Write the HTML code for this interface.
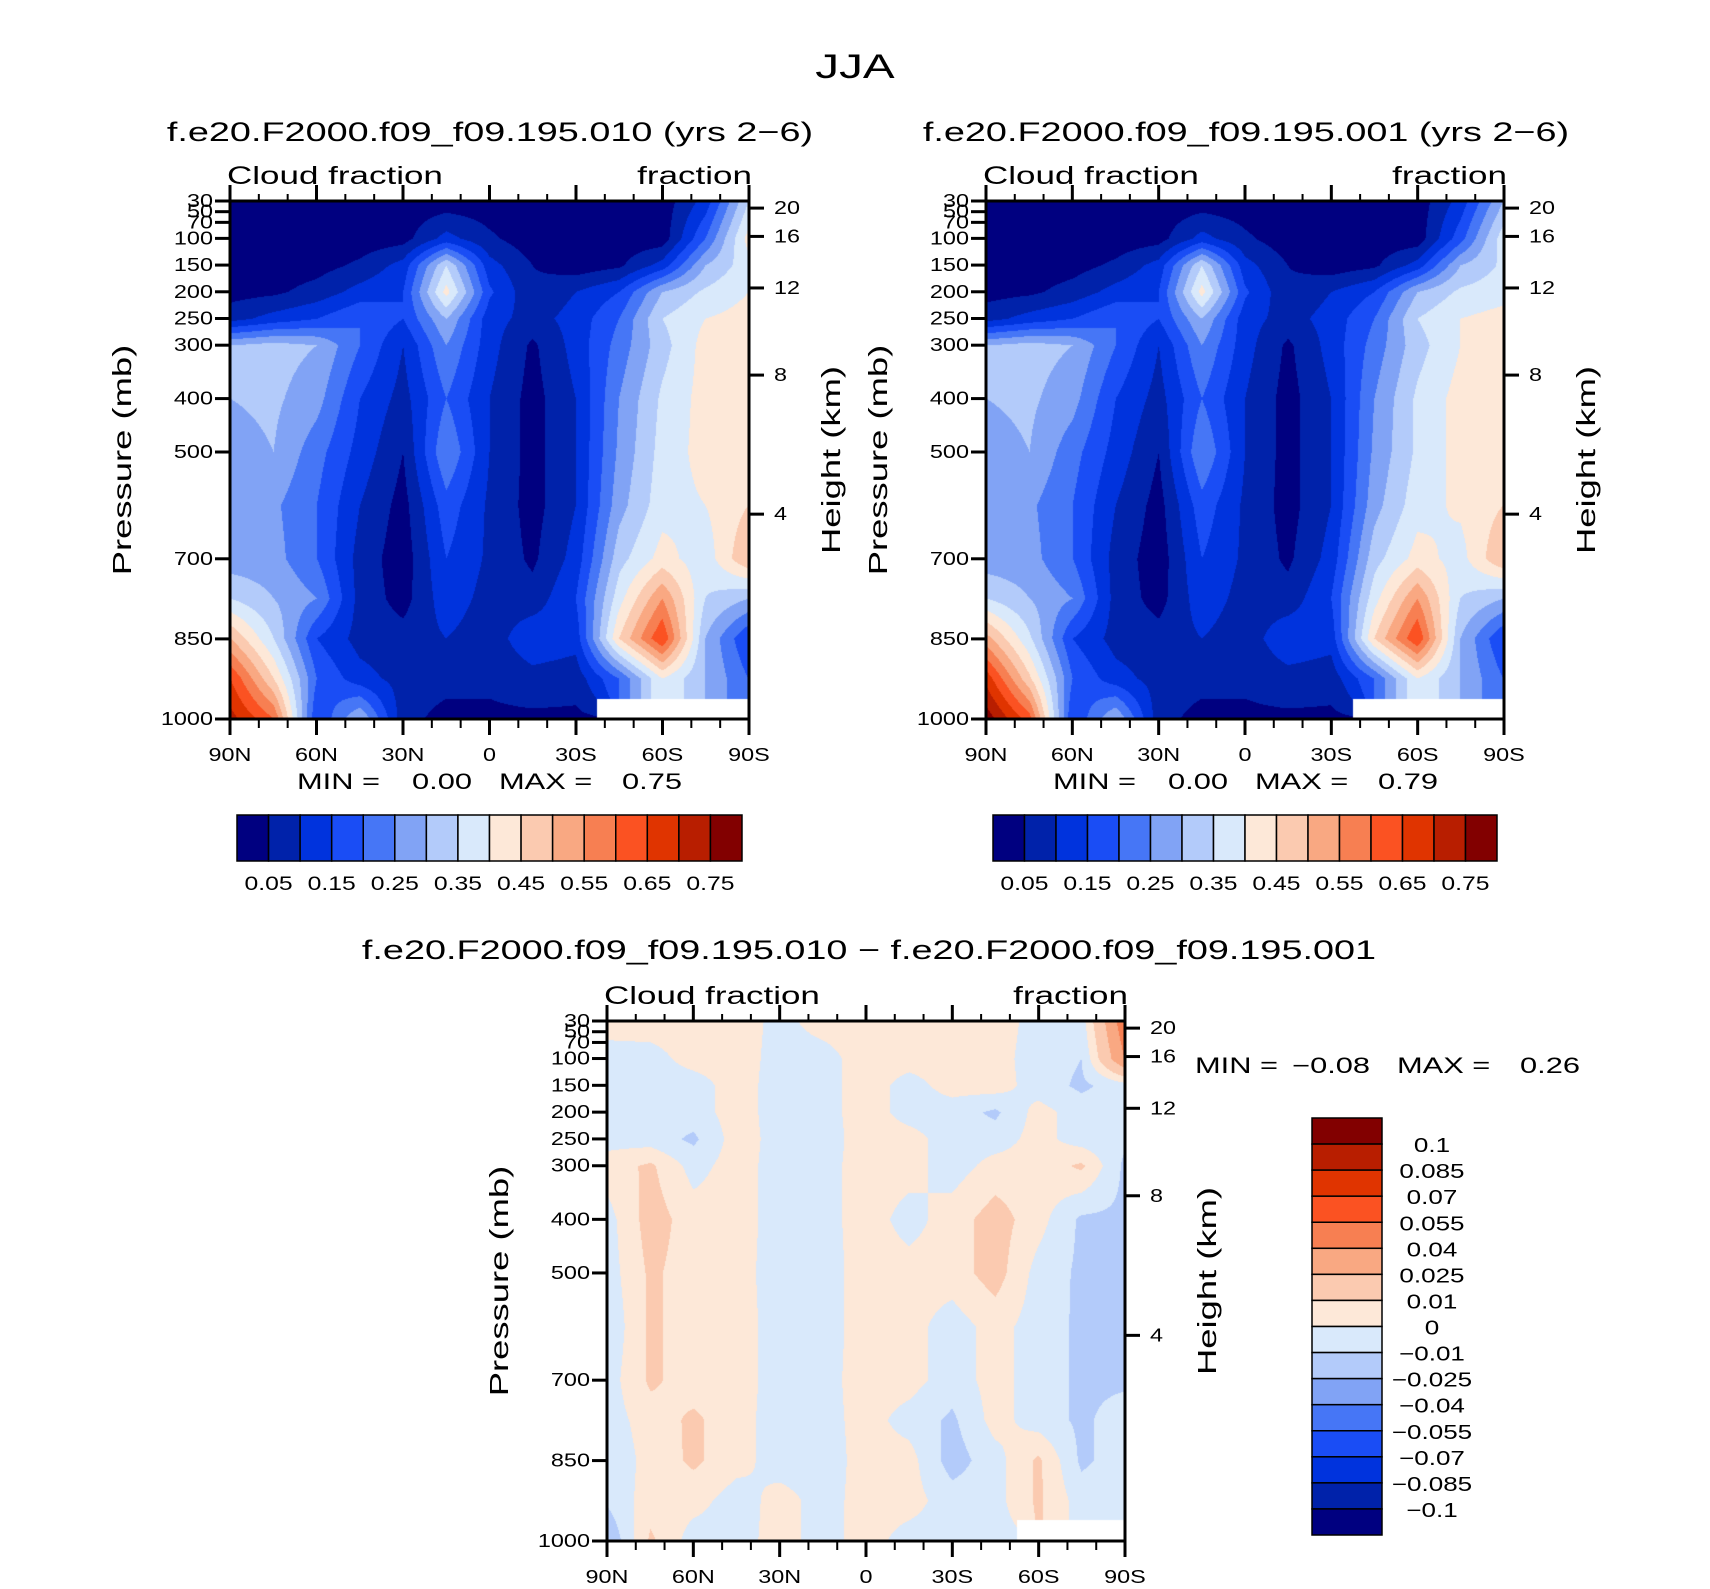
<!DOCTYPE html>
<html><head><meta charset="utf-8"><style>
html,body{margin:0;padding:0;background:#fff;}
#wrap{position:relative;width:1710px;height:1589px;overflow:hidden;font-family:"Liberation Sans",sans-serif;}
canvas{position:absolute;}
svg{position:absolute;left:0;top:0;}
text{font-family:"Liberation Sans",sans-serif;fill:#000;}
</style></head><body>
<div id="wrap">
<canvas id="c1" width="519" height="518" style="left:230px;top:201px"></canvas>
<canvas id="c2" width="518" height="518" style="left:986px;top:201px"></canvas>
<canvas id="c3" width="518" height="520" style="left:607px;top:1021px"></canvas>
<svg id="svg" width="1710" height="1589"></svg>
</div>
<script>
// ---- data ----
const latCats=['90N','75N','60N','45N','30N','15N','0','15S','30S','45S','60S','75S','90S'];
const pressureLevels=[30,100,150,200,250,300,400,500,600,700,775,850,925,1000];
const fieldA=[
[.02,.02,.02,.02,.02,.02,.02,.02,.02,.02,.02,.12,.35],
[.02,.02,.02,.02,.03,.12,.06,.02,.02,.02,.02,.2,.42],
[.02,.02,.03,.06,.12,.35,.12,.05,.02,.04,.12,.3,.38],
[.03,.04,.07,.12,.15,.42,.16,.06,.1,.15,.3,.36,.4],
[.08,.12,.15,.2,.15,.3,.12,.08,.12,.2,.35,.4,.42],
[.3,.32,.3,.2,.1,.25,.12,.04,.12,.22,.33,.42,.45],
[.3,.31,.27,.15,.08,.2,.1,.03,.1,.25,.36,.42,.42],
[.28,.3,.22,.13,.05,.25,.1,.03,.1,.26,.37,.42,.42],
[.27,.26,.2,.1,.03,.18,.09,.03,.1,.28,.38,.4,.45],
[.27,.27,.2,.08,.02,.15,.09,.04,.12,.33,.42,.37,.5],
[.35,.3,.25,.08,.03,.13,.08,.07,.15,.38,.55,.35,.3],
[.5,.35,.15,.08,.07,.1,.07,.14,.12,.45,.65,.3,.15],
[.65,.45,.2,.12,.08,.07,.06,.08,.07,.2,.4,.3,.2],
[.72,.6,.15,.3,.07,.03,.04,.04,.04,null,null,null,null]];
const fieldB=[
[.02,.02,.02,.02,.02,.02,.02,.02,.02,.02,.02,.12,.3],
[.02,.02,.02,.02,.03,.12,.06,.02,.02,.02,.02,.18,.38],
[.02,.02,.03,.06,.12,.35,.12,.05,.02,.04,.12,.3,.36],
[.03,.04,.07,.12,.15,.42,.16,.06,.1,.15,.3,.36,.38],
[.08,.12,.15,.2,.15,.3,.12,.08,.12,.2,.35,.4,.42],
[.3,.32,.3,.2,.1,.25,.12,.04,.12,.22,.33,.4,.44],
[.3,.31,.27,.15,.08,.2,.1,.03,.1,.25,.36,.42,.42],
[.28,.3,.22,.13,.05,.25,.1,.03,.1,.26,.36,.42,.42],
[.27,.26,.2,.1,.03,.18,.09,.03,.1,.28,.38,.41,.45],
[.27,.27,.2,.08,.02,.15,.09,.04,.12,.33,.42,.38,.5],
[.35,.3,.25,.08,.03,.13,.08,.07,.15,.38,.55,.35,.3],
[.52,.36,.15,.08,.07,.1,.07,.14,.12,.45,.65,.3,.15],
[.68,.46,.2,.12,.08,.07,.06,.08,.07,.2,.4,.3,.2],
[.78,.62,.15,.3,.07,.03,.04,.04,.04,null,null,null,null]];
const fieldDiff=[
[.005,.005,.005,.005,-.003,.004,.005,.005,.005,.005,-.004,-.005,.05],
[-.005,-.004,.004,.005,-.004,-.004,.005,.004,.005,.004,-.005,-.01,.04],
[-.005,-.005,-.005,.005,-.005,-.004,.005,-.004,.004,.005,-.005,-.012,-.005],
[-.005,-.004,-.005,.005,-.005,-.004,.005,-.004,-.005,-.012,.004,-.005,-.005],
[-.004,-.005,-.012,.005,-.004,-.005,.005,.004,-.005,-.005,.004,-.005,-.008],
[.005,.012,-.004,.005,-.005,-.004,.005,.004,-.005,.004,.004,.012,-.012],
[-.004,.015,.005,.005,-.005,-.004,.005,-.004,.005,.015,.004,-.012,-.012],
[-.005,.012,.005,.004,-.005,-.005,.005,.004,.005,.015,-.004,-.012,-.012],
[-.008,.012,.005,.005,-.005,-.005,.005,.004,-.005,.004,-.005,-.012,-.02],
[-.005,.012,.005,.005,-.005,-.004,.005,.004,-.005,.004,-.005,-.012,-.012],
[-.005,.005,.012,.004,-.005,-.004,.004,-.004,-.012,.004,-.005,-.012,-.005],
[-.008,.004,.012,.004,-.005,-.005,.004,.004,-.015,-.004,.012,-.012,-.005],
[-.008,.005,.004,-.005,.004,-.004,.004,.004,-.005,-.004,.012,-.005,-.005],
[-.02,.012,-.005,-.004,.004,-.004,.004,-.004,-.004,-.004,null,null,null]];
const cfLevels=[.05,.1,.15,.2,.25,.3,.35,.4,.45,.5,.55,.6,.65,.7,.75];
const cfLabels=['0.05','0.15','0.25','0.35','0.45','0.55','0.65','0.75'];
const diffLevels=[-.1,-.085,-.07,-.055,-.04,-.025,-.01,0,.01,.025,.04,.055,.07,.085,.1];
const diffLabels=['-0.1','-0.085','-0.07','-0.055','-0.04','-0.025','-0.01','0','0.01','0.025','0.04','0.055','0.07','0.085','0.1'];
const pTicks=[30,50,70,100,150,200,250,300,400,500,700,850,1000];
const pTickLabels=['30','50','70','100','150','200','250','300','400','500','700','850','1000'];
const zTicks=[20,16,12,8,4];
const xTickLats=[90,60,30,0,-30,-60,-90];
const xTickLabels=['90N','60N','30N','0','30S','60S','90S'];
const colors=['#000080','#0022aa','#0033dd','#1a4df5','#4676f6','#81a3f5','#b3cbfa','#d9e9fb','#fde8d8','#fbcab0','#f9a882','#f77f52','#fb5222','#e03400','#b81e00','#820000'];

// ---- helpers ----
const svg=document.getElementById('svg');const NS='http://www.w3.org/2000/svg';
function mk(tag,attrs,txt){const e=document.createElementNS(NS,tag);for(const k in attrs)e.setAttribute(k,attrs[k]);if(txt!==undefined)e.textContent=txt;svg.appendChild(e);return e;}
function lev(v,levels){let i=0;while(i<levels.length&&v>=levels[i])i++;return i;}
function hex(h){return [parseInt(h.substr(1,2),16),parseInt(h.substr(3,2),16),parseInt(h.substr(5,2),16)];}
const rgb=colors.map(hex);
function fill(id,field,levels){
 const c=document.getElementById(id);const W=c.width,H=c.height;const ctx=c.getContext('2d');
 const img=ctx.createImageData(W,H);const nc=latCats.length;
 for(let y=0;y<H;y++){
  const p=30+970*y/(H-1);let r=0;while(r<pressureLevels.length-2&&p>pressureLevels[r+1])r++;
  const fy=(p-pressureLevels[r])/(pressureLevels[r+1]-pressureLevels[r]);
  for(let x=0;x<W;x++){
   const gx=x/(W-1)*(nc-1);let cc=Math.min(Math.floor(gx),nc-2);const fx=gx-cc;
   const near=field[fy<.5?r:r+1][fx<.5?cc:cc+1];let o=(y*W+x)*4;
   if(near===null){img.data[o]=255;img.data[o+1]=255;img.data[o+2]=255;img.data[o+3]=255;continue;}
   const pts=[[field[r][cc],(1-fx)*(1-fy)],[field[r][cc+1],fx*(1-fy)],[field[r+1][cc],(1-fx)*fy],[field[r+1][cc+1],fx*fy]];
   let s=0,w=0;for(const [v,wt] of pts){if(v!==null){s+=v*wt;w+=wt;}}
   if(w<1e-6){s=near;w=1;}
   const col=rgb[lev(s/w,levels)];img.data[o]=col[0];img.data[o+1]=col[1];img.data[o+2]=col[2];img.data[o+3]=255;
  }}
 ctx.putImageData(img,0,0);
}
function zToP(z){return 1013.25*Math.pow(1-2.25577e-5*z*1000,5.25588);}
function axes(X0,Y0,W,H,tag){
 const py=p=>Y0+(p-30)/970*H;const lx=l=>X0+(90-l)/180*W;
 mk('rect',{x:X0,y:Y0,width:W,height:H,fill:'none',stroke:'#000','stroke-width':3,});
 pTicks.forEach((p,i)=>{mk('line',{x1:X0-15,x2:X0,y1:py(p),y2:py(p),stroke:'#000','stroke-width':3});
  const t=mk('text',{x:X0-17,y:py(p)+6,'font-size':18,'text-anchor':'end'},pTickLabels[i]);
  });
 zTicks.forEach(z=>{const y=py(zToP(z));mk('line',{x1:X0+W,x2:X0+W+15,y1:y,y2:y,stroke:'#000','stroke-width':3});
  const t=mk('text',{x:X0+W+25,y:y+6,'font-size':18},String(z));
  });
 for(let l=90;l>=-90;l-=10){const x=lx(l);const maj=(l%30===0);
  mk('line',{x1:x,x2:x,y1:Y0+H,y2:Y0+H+(maj?16:9),stroke:'#000','stroke-width':maj?3:2});
  mk('line',{x1:x,x2:x,y1:Y0,y2:Y0-(maj?16:7),stroke:'#000','stroke-width':maj?3:2});}
 xTickLats.forEach((l,i)=>{const t=mk('text',{x:lx(l),y:Y0+H+42,'font-size':18,'text-anchor':'middle'},xTickLabels[i]);
  });
 mk('text',{x:X0-3,y:Y0-17,'font-size':25,},'Cloud fraction');
 mk('text',{x:X0+W+3,y:Y0-17,'font-size':25,'text-anchor':'end',},'fraction');
 mk('text',{x:0,y:0,'font-size':26,'text-anchor':'middle',transform:`translate(${X0-99},${Y0+H/2}) rotate(-90)`,},'Pressure (mb)');
 mk('text',{x:0,y:0,'font-size':26,'text-anchor':'middle',transform:`translate(${X0+W+91},${Y0+H/2}) rotate(-90)`,},'Height (km)');
}
function hbar(X0,Y0,W,H,tag){
 const bw=W/colors.length;
 colors.forEach((c,i)=>{const r=mk('rect',{x:X0+i*bw,y:Y0,width:bw,height:H,fill:c,stroke:'#000','stroke-width':1.5});
  });
 cfLabels.forEach((s,i)=>{const t=mk('text',{x:X0+(2*i+1)*bw,y:Y0+H+29,'font-size':19,'text-anchor':'middle'},s);
  });
}
function minmax(x,y,mn,mx,tag){
 mk('text',{x:x,y:y,'font-size':22,},'MIN =');
 mk('text',{x:x+175,y:y,'font-size':22,'text-anchor':'end',},mn);
 mk('text',{x:x+202,y:y,'font-size':22,},'MAX =');
 mk('text',{x:x+385,y:y,'font-size':22,'text-anchor':'end',},mx);
}
// ---- draw ----
fill('c1',fieldA,cfLevels);fill('c2',fieldB,cfLevels);fill('c3',fieldDiff,diffLevels);
mk('text',{x:855,y:78,'font-size':34,'text-anchor':'middle',},'JJA');
mk('text',{x:490,y:141,'font-size':27,'text-anchor':'middle',},'f.e20.F2000.f09_f09.195.010 (yrs 2\u22126)');
mk('text',{x:1246,y:141,'font-size':27,'text-anchor':'middle',},'f.e20.F2000.f09_f09.195.001 (yrs 2\u22126)');
mk('text',{x:869,y:959,'font-size':27,'text-anchor':'middle',},'f.e20.F2000.f09_f09.195.010 \u2212 f.e20.F2000.f09_f09.195.001');
axes(230,201,519,518,'panel1');axes(986,201,518,518,'panel2');axes(607,1021,518,520,'panel3');
minmax(297,789,'0.00','0.75','panel1');minmax(1053,789,'0.00','0.79','panel2');
minmax(1195,1073,'\u22120.08','0.26','panel3');
hbar(237,815,505,46,'panel1');hbar(993,815,504,46,'panel2');
(function(){const X0=1312,Y0=1118,W=70,H=417;const bh=H/colors.length;
 colors.slice().reverse().forEach((c,i)=>{const r=mk('rect',{x:X0,y:Y0+i*bh,width:W,height:bh,fill:c,stroke:'#000','stroke-width':1.5});
  });
 diffLabels.slice().reverse().forEach((s,i)=>{const t=mk('text',{x:1432,y:Y0+(i+1)*bh+8,'font-size':20,'text-anchor':'middle'},s.replace('-','\u2212'));
  });
})();
// widen text to mimic the wider plotting font
svg.querySelectorAll('text').forEach(t=>{
 const fs=parseFloat(t.getAttribute('font-size'));
 const f=fs>=22?1.4:1.3;
 const L=t.getComputedTextLength();
 if(L>0){t.setAttribute('textLength',(L*f).toFixed(1));t.setAttribute('lengthAdjust','spacingAndGlyphs');}
});
</script>
</body></html>
